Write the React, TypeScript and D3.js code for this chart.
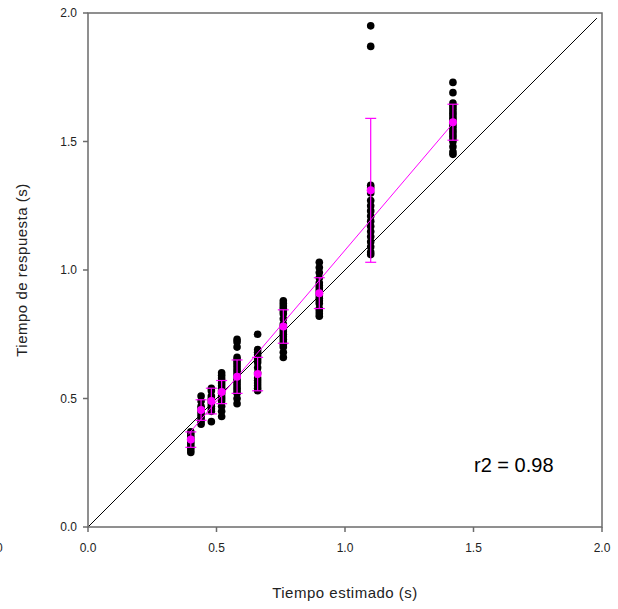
import React from "react";
import * as d3 from "d3";

const xGroups = [0.40, 0.44, 0.48, 0.52, 0.58, 0.66, 0.76, 0.90, 1.10, 1.42];
const groupValues: number[][] = [
  [0.37, 0.36, 0.35, 0.34, 0.33, 0.32, 0.31, 0.30, 0.29],
  [0.51, 0.49, 0.47, 0.46, 0.45, 0.44, 0.43, 0.42, 0.41, 0.40],
  [0.54, 0.53, 0.51, 0.50, 0.49, 0.48, 0.47, 0.46, 0.45, 0.41],
  [0.60, 0.59, 0.58, 0.57, 0.56, 0.55, 0.54, 0.53, 0.52, 0.51, 0.50, 0.49, 0.47, 0.45, 0.43],
  [0.73, 0.72, 0.70, 0.66, 0.65, 0.64, 0.63, 0.62, 0.61, 0.60, 0.59, 0.58, 0.57, 0.56, 0.55, 0.54, 0.53, 0.52, 0.50, 0.48],
  [0.75, 0.69, 0.68, 0.67, 0.66, 0.65, 0.64, 0.62, 0.60, 0.58, 0.57, 0.56, 0.55, 0.54, 0.53],
  [0.88, 0.87, 0.86, 0.85, 0.84, 0.83, 0.81, 0.79, 0.78, 0.77, 0.76, 0.75, 0.74, 0.73, 0.72, 0.71, 0.70, 0.68, 0.66],
  [1.03, 1.01, 0.99, 0.97, 0.95, 0.94, 0.93, 0.92, 0.91, 0.90, 0.89, 0.88, 0.87, 0.85, 0.84, 0.83, 0.82],
  [1.95, 1.87, 1.33, 1.32, 1.30, 1.27, 1.25, 1.23, 1.21, 1.19, 1.17, 1.15, 1.13, 1.11, 1.09, 1.07, 1.06],
  [1.73, 1.69, 1.65, 1.64, 1.63, 1.62, 1.61, 1.60, 1.59, 1.58, 1.57, 1.56, 1.55, 1.54, 1.53, 1.52, 1.51, 1.50, 1.48, 1.46, 1.45],
];
const groupMeans = [0.34, 0.455, 0.49, 0.525, 0.585, 0.595, 0.78, 0.91, 1.31, 1.575];
const groupErrors = [0.03, 0.04, 0.05, 0.045, 0.065, 0.065, 0.065, 0.06, 0.28, 0.07];
// linear fit (magenta line) y = slope * x + intercept over the range of the groups
const fitSlope = 1.175;
const fitIntercept = -0.098;
const fitRange = [0.39, 1.42];
const xTicks = [0, 0.5, 1.0, 1.5, 2.0];
const yTicks = [0, 0.5, 1.0, 1.5, 2.0];
const identityLine = [0, 1.98];

const W = 618, H = 609;
const L = 88, R = 602, T = 13, B = 527;
const MAGENTA = "#ff00ff";
const FONT = "'Liberation Sans', Arial, sans-serif";

export default function App() {
  const x = d3.scaleLinear().domain([0, 2]).range([L, R]);
  const y = d3.scaleLinear().domain([0, 2]).range([B, T]);
  const fitLine =
    d3.line<number>().x((d) => x(d)).y((d) => y(fitSlope * d + fitIntercept))(fitRange) || "";
  const axisColor = "#6b6b6b";

  return (
    <svg width={W} height={H} style={{ position: "absolute", left: 0, top: 0, background: "#fff" }} fontFamily={FONT}>
      <rect x={0} y={0} width={W} height={H} fill="#fff" />
      {/* identity line */}
      <line x1={x(identityLine[0])} y1={y(identityLine[0])} x2={x(identityLine[1])} y2={y(identityLine[1])} stroke="#000" strokeWidth={1} />
      {/* black points */}
      {groupValues.map((vals, gi) =>
        vals.map((v, j) => <circle key={`p${gi}-${j}`} cx={x(xGroups[gi])} cy={y(v)} r={3.8} fill="#000" />)
      )}
      {/* fit line */}
      <path d={fitLine} fill="none" stroke={MAGENTA} strokeWidth={1} />
      {/* error bars */}
      {groupMeans.map((m, i) => {
        const cx = x(xGroups[i]);
        const y1 = y(m + groupErrors[i]);
        const y2 = y(m - groupErrors[i]);
        return (
          <g key={`e${i}`} stroke={MAGENTA} strokeWidth={1.2}>
            <line x1={cx} x2={cx} y1={y1} y2={y2} />
            <line x1={cx - 5.5} x2={cx + 5.5} y1={y1} y2={y1} />
            <line x1={cx - 5.5} x2={cx + 5.5} y1={y2} y2={y2} />
          </g>
        );
      })}
      {groupMeans.map((m, i) => (
        <circle key={`m${i}`} cx={x(xGroups[i])} cy={y(m)} r={4} fill={MAGENTA} />
      ))}
      {/* frame */}
      <rect x={L} y={T} width={R - L} height={B - T} fill="none" stroke={axisColor} strokeWidth={1.5} />
      {/* x ticks */}
      {xTicks.map((t) => (
        <g key={`xt${t}`}>
          <line x1={x(t)} x2={x(t)} y1={B} y2={B + 5} stroke={axisColor} strokeWidth={1.5} />
          <text x={x(t)} y={552} textAnchor="middle" fontSize={12} fill="#222">{t.toFixed(1)}</text>
        </g>
      ))}
      {yTicks.map((t) => (
        <g key={`yt${t}`}>
          <line x1={L - 5} x2={L} y1={y(t)} y2={y(t)} stroke={axisColor} strokeWidth={1.5} />
          <text x={77} y={y(t) + 4} textAnchor="end" fontSize={12} fill="#222">{t.toFixed(1)}</text>
        </g>
      ))}
      <text x={345} y={598} textAnchor="middle" fontSize={15} fill="#222" letterSpacing={0.5}>Tiempo estimado (s)</text>
      <text transform={`translate(27,270) rotate(-90)`} textAnchor="middle" fontSize={15} fill="#222" letterSpacing={0.5}>Tiempo de respuesta (s)</text>
      <text x={-4} y={552} fontSize={12} fill="#222">0</text>
      <text x={474} y={472} fontSize={20} fill="#000">r2 = 0.98</text>
    </svg>
  );
}
